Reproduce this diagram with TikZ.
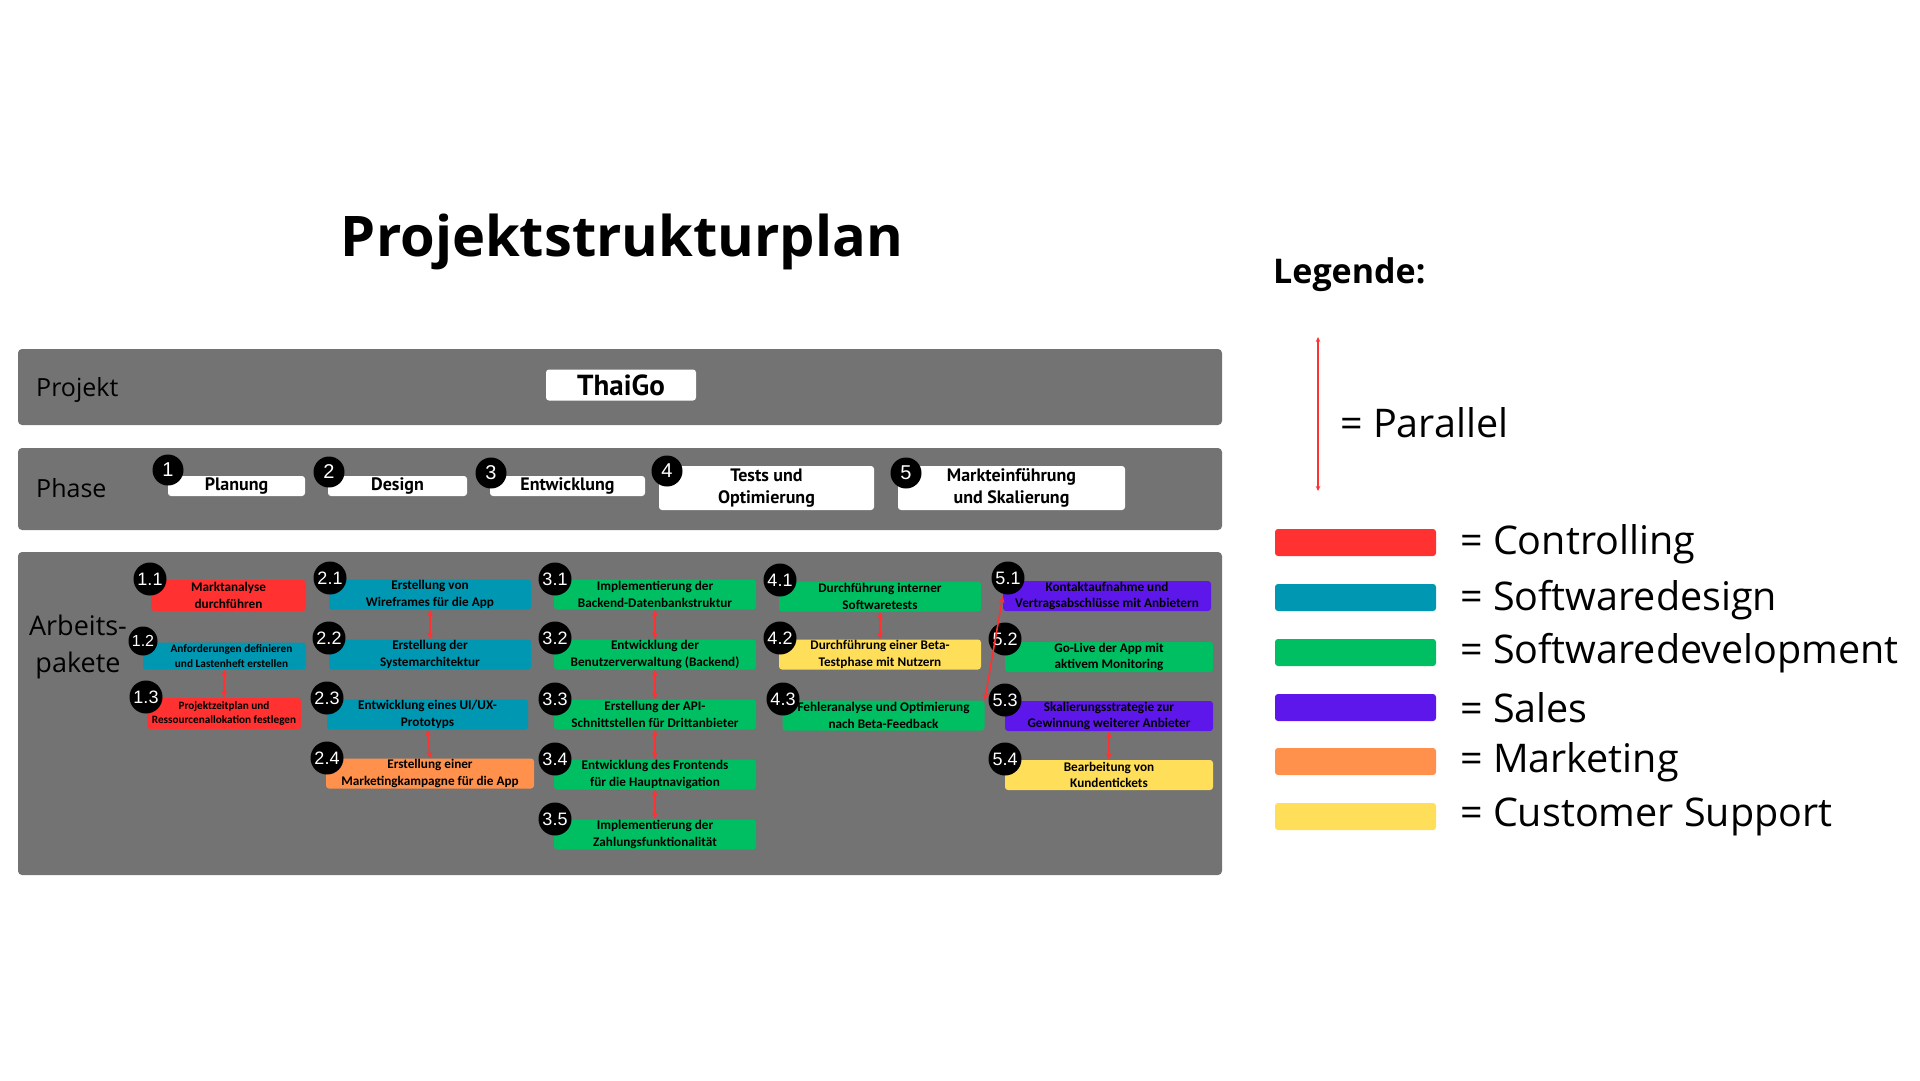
\documentclass[tikz,border=0pt]{standalone}
\usepackage{fontspec}
\setmainfont{Open Sans}
\newfontfamily\boxfont{Carlito}
\newfontfamily\numfont{Liberation Sans}
\newfontfamily\phasefont{PT Sans}
\usetikzlibrary{arrows.meta,positioning}

\definecolor{bandgray}{HTML}{737373}
\definecolor{ctrlred}{HTML}{FF3131}
\definecolor{designblue}{HTML}{0097B2}
\definecolor{devgreen}{HTML}{00BF63}
\definecolor{salespurple}{HTML}{5E17EB}
\definecolor{mktorange}{HTML}{FF914D}
\definecolor{supportyellow}{HTML}{FFDE59}

\begin{document}
\begin{tikzpicture}[
    x=1pt, y=-1pt,
    band/.style={fill=bandgray,rounded corners=4pt},
    rowlabel/.style={anchor=west,inner sep=0pt,font=\fontsize{25}{30}\selectfont},
    phasebox/.style={fill=white,rounded corners=3pt,inner sep=0pt,align=center,
        font=\phasefont\bfseries\fontsize{18}{22}\selectfont},
    phasenum/.style={circle,fill=black,text=white,inner sep=0pt,minimum size=31pt,
        font=\numfont\fontsize{20}{20}\selectfont},
    wp/.style={rounded corners=3pt,align=center,inner sep=0pt,minimum width=202pt,
        minimum height=30pt,text=black,font=\boxfont\bfseries\fontsize{13.2}{16.5}\selectfont},
    wpnum/.style={circle,fill=black,text=white,inner sep=0pt,minimum size=33pt,
        font=\numfont\fontsize{18}{18}\selectfont},
    par/.style={{Stealth[length=7pt,width=6pt]}-{Stealth[length=7pt,width=6pt]},
        draw=ctrlred,fill=ctrlred,line width=1.6pt},
    legbar/.style={rounded corners=3pt,minimum width=161pt,minimum height=27pt,inner sep=0pt},
    legtext/.style={anchor=west,inner sep=0pt,font=\fontsize{39.5}{44}\selectfont},
]
    \path[use as bounding box] (0,0) rectangle (1920,1080);

    % title
    \node[font=\bfseries\fontsize{56}{60}\selectfont] (title) at (622,242) {Projektstrukturplan};

    % bands
    \fill[band] (18,349) rectangle (1222,425);
    \fill[band] (18,448) rectangle (1222,530);
    \fill[band] (18,552) rectangle (1222,875);
    \node[rowlabel] (lblprojekt) at (36,390) {Projekt};
    \node[rowlabel] (lblphase) at (36,488) {Phase};
    \node[align=center,inner sep=0pt,font=\fontsize{27}{37}\selectfont] (lblap) at (78,647)
        {Arbeits-\\pakete};

    % project
    \node[phasebox,minimum width=150pt,minimum height=31pt,font=\phasefont\bfseries\fontsize{29}{32}\selectfont]
        (proj) at (621,385) {ThaiGo};

    % phases
    \node[phasebox,minimum width=137pt,minimum height=20pt] (p1) at (236.5,486) {Planung};
    \node[phasebox,minimum width=139pt,minimum height=20pt] (p2) at (397.5,486) {Design};
    \node[phasebox,minimum width=155pt,minimum height=20pt] (p3) at (567.5,486) {Entwicklung};
    \node[phasebox,minimum width=215pt,minimum height=44pt] (p4) at (766.5,488) {Tests und\\Optimierung};
    \node[phasebox,minimum width=227pt,minimum height=44pt] (p5) at (1011.5,488) {Markteinführung\\und Skalierung};
    \node[phasenum] (n1) at (168,470) {1};
    \node[phasenum] (n2) at (329,472) {2};
    \node[phasenum] (n3) at (491,473) {3};
    \node[phasenum] (n4) at (667,471) {4};
    \node[phasenum] (n5) at (906,473) {5};

    % work packages
    \node[wp,fill=ctrlred,minimum width=155pt,minimum height=31pt] (b11) at (228.5,595.5) {Marktanalyse\\durchführen};
    \node[wp,fill=designblue,minimum width=163pt,minimum height=27pt,font=\boxfont\bfseries\fontsize{11.3}{15}\selectfont]
        (b12) at (224.5,656) {\hspace*{14pt}Anforderungen definieren\\\hspace*{14pt}und Lastenheft erstellen};
    \node[wp,fill=ctrlred,minimum width=154pt,minimum height=31pt,font=\boxfont\bfseries\fontsize{11.2}{14.5}\selectfont]
        (b13) at (224,713.5) {Projektzeitplan und\\Ressourcenallokation festlegen};

    \node[wp,fill=designblue] (b21) at (430,594.5) {Erstellung von\\Wireframes für die App};
    \node[wp,fill=designblue] (b22) at (430,654.5) {Erstellung der\\Systemarchitektur};
    \node[wp,fill=designblue,minimum width=201pt] (b23) at (427.5,714.5) {Entwicklung eines UI/UX-\\Prototyps};
    \node[wp,fill=mktorange,minimum width=208pt] (b24) at (430,773.5) {Erstellung einer\\Marketingkampagne für die App};

    \node[wp,fill=devgreen] (b31) at (655,594.5) {Implementierung der\\Backend-Datenbankstruktur};
    \node[wp,fill=devgreen] (b32) at (655,654.5) {Entwicklung der\\Benutzerverwaltung (Backend)};
    \node[wp,fill=devgreen] (b33) at (655,714.5) {Erstellung der API-\\Schnittstellen für Drittanbieter};
    \node[wp,fill=devgreen] (b34) at (655,774.5) {Entwicklung des Frontends\\für die Hauptnavigation};
    \node[wp,fill=devgreen] (b35) at (655,834.5) {Implementierung der\\Zahlungsfunktionalität};

    \node[wp,fill=devgreen] (b41) at (880,596.5) {Durchführung interner\\Softwaretests};
    \node[wp,fill=supportyellow] (b42) at (880,654.5) {Durchführung einer Beta-\\Testphase mit Nutzern};
    \node[wp,fill=devgreen] (b43) at (883.5,715.5) {Fehleranalyse und Optimierung\\nach Beta-Feedback};

    \node[wp,fill=salespurple,minimum width=208pt] (b51) at (1107,596) {Kontaktaufnahme und\\Vertragsabschlüsse mit Anbietern};
    \node[wp,fill=devgreen,minimum width=208pt] (b52) at (1109,657) {Go-Live der App mit\\aktivem Monitoring};
    \node[wp,fill=salespurple,minimum width=208pt] (b53) at (1109,716) {Skalierungsstrategie zur\\Gewinnung weiterer Anbieter};
    \node[wp,fill=supportyellow,minimum width=208pt] (b54) at (1109,775) {Bearbeitung von\\Kundentickets};

    % numbers
    \node[wpnum] (w11) at (150,579) {1.1};
    \node[wpnum,minimum size=29pt,font=\numfont\fontsize{16}{16}\selectfont] (w12) at (143,641) {1.2};
    \node[wpnum] (w13) at (146,697) {1.3};
    \node[wpnum] (w21) at (330,578) {2.1};
    \node[wpnum] (w22) at (329,638) {2.2};
    \node[wpnum] (w23) at (327,698) {2.3};
    \node[wpnum] (w24) at (327,758) {2.4};
    \node[wpnum] (w31) at (555,579) {3.1};
    \node[wpnum] (w32) at (555,638) {3.2};
    \node[wpnum] (w33) at (555,699) {3.3};
    \node[wpnum] (w34) at (555,759) {3.4};
    \node[wpnum] (w35) at (555,819) {3.5};
    \node[wpnum] (w41) at (780,580) {4.1};
    \node[wpnum] (w42) at (780,638) {4.2};
    \node[wpnum] (w43) at (783,699) {4.3};
    \node[wpnum] (w51) at (1008,578) {5.1};
    \node[wpnum] (w52) at (1005,639) {5.2};
    \node[wpnum] (w53) at (1005,700) {5.3};
    \node[wpnum] (w54) at (1005,759) {5.4};

    % parallel work
    \draw[par] (b12.south) -- (b13.north);
    \draw[par] (b21.south) -- (b22.north);
    \draw[par] (b23.south) -- (b24.north);
    \draw[par] (b31.south) -- (b32.north);
    \draw[par] (b32.south) -- (b33.north);
    \draw[par] (b33.south) -- (b34.north);
    \draw[par] (b34.south) -- (b35.north);
    \draw[par] (b41.south) -- (b42.north);
    \draw[par] (b51.west) -- (b43.north east);
    \draw[par] (b53.south) -- (b54.north);

    % legend
    \node[anchor=west,inner sep=0pt,font=\bfseries\fontsize{34}{40}\selectfont] (legtitle) at (1273,275) {Legende:};
    \coordinate (partop) at (1318,337);
    \coordinate (parbot) at (1318,491);
    \draw[par,line width=1.1pt,{Stealth[length=5pt,width=4.5pt]}-{Stealth[length=5pt,width=4.5pt]}] (partop) -- (parbot);
    \node[legtext] (legpar) at (1340,423) {= Parallel};

    \node[legbar,fill=ctrlred] (barctrl) at (1355.5,542.5) {};
    \node[legbar,fill=designblue] (bardesign) at (1355.5,597.5) {};
    \node[legbar,fill=devgreen] (bardev) at (1355.5,652.5) {};
    \node[legbar,fill=salespurple] (barsales) at (1355.5,707.5) {};
    \node[legbar,fill=mktorange] (barmkt) at (1355.5,761.5) {};
    \node[legbar,fill=supportyellow] (barsupport) at (1355.5,816.5) {};
    \node[legtext] (txtctrl) at (1460,544) {= Controlling};
    \node[legtext] (txtdesign) at (1460,600) {= Softwaredesign};
    \node[legtext] (txtdev) at (1460,653) {= Softwaredevelopment};
    \node[legtext] (txtsales) at (1460,708) {= Sales};
    \node[legtext] (txtmkt) at (1460,762) {= Marketing};
    \node[legtext] (txtsupport) at (1460,817) {= Customer Support};
\end{tikzpicture}
\end{document}
